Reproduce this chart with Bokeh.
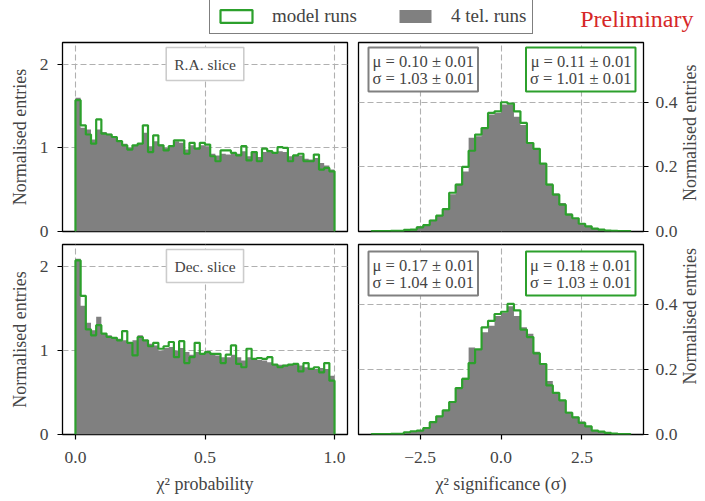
import math
import numpy as np
from bokeh.plotting import figure
from bokeh.layouts import column, row
from bokeh.models import FixedTicker, Label, Range1d, Legend, LegendItem
from bokeh.embed import file_html
from bokeh.resources import INLINE

FONT = "Liberation Serif"
GREEN = "#2ca02c"
GREY = "#808080"
RED = "#d62728"

# ---------------- data ----------------
prob_range = (0.0, 1.0)
prob_bins = 50
sig_range = (-4.0, 4.0)
sig_bins = 40

ra_prob_model = [1.57, 1.27, 1.16, 1.05, 1.34, 1.17, 1.16, 1.13, 1.08, 1.03,
                 0.98, 1.03, 1.05, 1.27, 0.95, 1.15, 1.03, 0.97, 1.02, 1.09,
                 1.09, 0.93, 1.06, 0.99, 1.06, 1.04, 0.90, 0.84, 0.97, 0.97,
                 0.94, 0.91, 1.02, 0.85, 0.95, 0.84, 0.99, 0.96, 0.94, 1.01,
                 1.00, 0.84, 0.91, 0.93, 0.84, 0.84, 0.92, 0.74, 0.76, 0.72]
ra_prob_tel = [1.60, 1.24, 1.22, 1.10, 1.22, 1.19, 1.17, 1.13, 1.09, 1.05,
               1.00, 1.03, 1.05, 1.18, 1.02, 1.08, 1.04, 1.00, 1.02, 1.08,
               1.06, 0.98, 1.03, 1.00, 1.03, 1.02, 0.93, 0.91, 0.93, 0.92,
               0.93, 0.93, 0.96, 0.90, 0.94, 0.89, 0.95, 0.95, 0.94, 0.96,
               0.95, 0.90, 0.91, 0.91, 0.87, 0.86, 0.88, 0.82, 0.79, 0.74]
dec_prob_model = [2.07, 1.65, 1.25, 1.18, 1.30, 1.20, 1.16, 1.15, 1.12, 1.23,
                  1.09, 0.94, 1.16, 1.12, 1.05, 1.09, 1.02, 1.05, 1.10, 0.92,
                  1.11, 0.85, 0.92, 1.09, 0.96, 0.98, 0.96, 0.96, 0.85, 0.95,
                  1.06, 0.84, 0.80, 1.02, 0.90, 0.91, 0.90, 0.92, 0.83, 0.80,
                  0.82, 0.83, 0.84, 0.75, 0.85, 0.78, 0.80, 0.74, 0.85, 0.64]
dec_prob_tel = [2.09, 1.53, 1.33, 1.24, 1.40, 1.20, 1.18, 1.15, 1.14, 1.12,
                1.09, 1.12, 1.18, 1.12, 1.08, 1.06, 1.00, 1.03, 1.04, 1.00,
                1.03, 0.98, 0.95, 0.98, 0.97, 0.97, 0.96, 0.94, 0.92, 0.92,
                0.95, 0.92, 0.88, 0.92, 0.90, 0.89, 0.88, 0.86, 0.84, 0.83,
                0.83, 0.83, 0.83, 0.82, 0.80, 0.78, 0.78, 0.79, 0.78, 0.70]

ra_sig_model = [0.001, 0.001, 0.001, 0.002, 0.002, 0.005, 0.006, 0.013, 0.020, 0.034,
                0.049, 0.069, 0.120, 0.145, 0.200, 0.250, 0.300, 0.320, 0.367, 0.372,
                0.400, 0.396, 0.372, 0.336, 0.274, 0.256, 0.210, 0.145, 0.114, 0.083,
                0.052, 0.041, 0.024, 0.016, 0.009, 0.006, 0.003, 0.002, 0.001, 0.001]
ra_sig_tel = [0.001, 0.001, 0.001, 0.002, 0.003, 0.005, 0.007, 0.016, 0.022, 0.036,
              0.050, 0.072, 0.115, 0.148, 0.186, 0.290, 0.295, 0.318, 0.362, 0.367,
              0.393, 0.393, 0.355, 0.330, 0.272, 0.258, 0.210, 0.148, 0.118, 0.088,
              0.056, 0.041, 0.026, 0.017, 0.010, 0.006, 0.003, 0.002, 0.001, 0.001]
dec_sig_model = [0.001, 0.001, 0.001, 0.002, 0.002, 0.007, 0.010, 0.012, 0.020, 0.038,
                 0.056, 0.074, 0.100, 0.143, 0.171, 0.220, 0.262, 0.330, 0.350, 0.371,
                 0.378, 0.402, 0.382, 0.323, 0.300, 0.250, 0.217, 0.151, 0.128, 0.105,
                 0.067, 0.053, 0.036, 0.025, 0.012, 0.009, 0.005, 0.003, 0.001, 0.001]
dec_sig_tel = [0.001, 0.001, 0.001, 0.002, 0.003, 0.006, 0.009, 0.014, 0.019, 0.036,
               0.054, 0.072, 0.100, 0.143, 0.175, 0.268, 0.260, 0.315, 0.335, 0.365,
               0.375, 0.395, 0.365, 0.330, 0.310, 0.255, 0.220, 0.165, 0.130, 0.105,
               0.070, 0.055, 0.040, 0.025, 0.014, 0.009, 0.005, 0.003, 0.001, 0.001]

ra_tel_fit = ["μ = 0.10 ± 0.01", "σ = 1.03 ± 0.01"]
ra_model_fit = ["μ = 0.11 ± 0.01", "σ = 1.01 ± 0.01"]
dec_tel_fit = ["μ = 0.17 ± 0.01", "σ = 1.04 ± 0.01"]
dec_model_fit = ["μ = 0.18 ± 0.01", "σ = 1.03 ± 0.01"]

slice_labels = ["R.A. slice", "Dec. slice"]
series_labels = ["model runs", "4 tel. runs"]

prob_xticks = [0.0, 0.5, 1.0]
prob_xtick_labels = ["0.0", "0.5", "1.0"]
prob_yticks = [0, 1, 2]
prob_ytick_labels = ["0", "1", "2"]
sig_xticks = [-2.5, 0.0, 2.5]
sig_xtick_labels = ["\u22122.5", "0.0", "2.5"]
sig_yticks = [0.0, 0.2, 0.4]
sig_ytick_labels = ["0.0", "0.2", "0.4"]

prob_ylim = (0.0, 2.26)
sig_ylim = (0.0, 0.585)

TICK_FS = "17.5px"
LABEL_FS = "18px"
Y_LABEL = "Normalised entries"

# panel geometry (pixels)
FRAME_W = 285
ROW_TOP = dict(mb_t=2, fh=189, mb_b=11)
ROW_BOT = dict(mb_t=2, fh=190, mb_b=65)
LEFT_BORDERS = (62, 5)
RIGHT_BORDERS = (6, 36)
SIDE_W = 705 - sum(LEFT_BORDERS) - sum(RIGHT_BORDERS) - 2 * FRAME_W


def step_path(edges, vals):
    xs = np.repeat(edges, 2)
    ys = np.concatenate([[0.0], np.repeat(np.asarray(vals, float), 2), [0.0]])
    return xs, ys


def style_axes(p, xticks, xlabels, yticks, ylabels, show_x, xlabel, ylabel):
    p.outline_line_color = "black"
    p.outline_line_width = 1.3
    p.background_fill_color = "white"
    p.border_fill_color = "white"
    for ax in p.yaxis:
        ax.ticker = FixedTicker(ticks=yticks)
        ax.major_label_overrides = {t: l for t, l in zip(yticks, ylabels)}
        ax.axis_line_color = None
        ax.major_tick_out = 5
        ax.major_tick_in = 0
        ax.major_tick_line_width = 1.2
        ax.minor_tick_line_color = None
        ax.major_label_text_font = FONT
        ax.major_label_text_font_size = TICK_FS
        ax.major_label_standoff = 9
        if ylabel:
            ax.axis_label = ylabel
        ax.axis_label_text_font = FONT
        ax.axis_label_text_font_size = LABEL_FS
        ax.axis_label_text_font_style = "normal"
        ax.axis_label_standoff = 7
    for ax in p.xaxis:
        ax.ticker = FixedTicker(ticks=xticks)
        ax.major_label_overrides = {t: l for t, l in zip(xticks, xlabels)}
        ax.axis_line_color = None
        ax.major_tick_out = 5
        ax.major_tick_in = 0
        ax.major_tick_line_width = 1.2
        ax.minor_tick_line_color = None
        ax.major_label_text_font = FONT
        ax.major_label_text_font_size = TICK_FS
        ax.major_label_standoff = 12
        ax.axis_label_text_font = FONT
        ax.axis_label_text_font_size = LABEL_FS
        ax.axis_label_text_font_style = "normal"
        ax.axis_label_standoff = 8
        if show_x:
            ax.axis_label = xlabel
        else:
            ax.visible = False
    p.xgrid.ticker = FixedTicker(ticks=xticks)
    p.ygrid.ticker = FixedTicker(ticks=yticks)
    for g in (p.xgrid, p.ygrid):
        g.grid_line_color = "#b0b0b0"
        g.grid_line_dash = "6 3"
        g.grid_line_width = 1.1


def hist_panel(kind, top, model_vals, tel_vals, extra):
    geo = ROW_TOP if top else ROW_BOT
    if kind == "prob":
        lo, hi = prob_range
        nb = prob_bins
        yr = Range1d(*prob_ylim)
        side = "left"
        mb_l, mb_r = LEFT_BORDERS
    else:
        lo, hi = sig_range
        nb = sig_bins
        yr = Range1d(*sig_ylim)
        side = "right"
        mb_l, mb_r = RIGHT_BORDERS
    pad = 0.05 * (hi - lo)
    xr = Range1d(lo - pad, hi + pad)
    p = figure(frame_width=FRAME_W, frame_height=geo["fh"], x_range=xr, y_range=yr,
               y_axis_location=side, output_backend="svg", toolbar_location=None,
               min_border_left=mb_l, min_border_right=mb_r,
               min_border_top=geo["mb_t"], min_border_bottom=geo["mb_b"])
    edges = np.linspace(lo, hi, nb + 1)
    tel = np.asarray(tel_vals, float)
    p.varea_step(x=edges, y1=np.zeros(nb + 1), y2=np.append(tel, tel[-1]),
                 step_mode="after", fill_color=GREY)
    xs, ys = step_path(edges, model_vals)
    p.line(xs, ys, line_color=GREEN, line_width=2.2)
    if kind == "prob":
        style_axes(p, prob_xticks, prob_xtick_labels, prob_yticks, prob_ytick_labels,
                   not top, "\u03c7\u00b2 probability", Y_LABEL)
        p.add_layout(Label(x=(xr.start + xr.end) / 2, y=yr.end, y_offset=-5,
                           text=extra, text_align="center", text_baseline="top",
                           text_font=FONT, text_font_size="15.5px",
                           border_line_color="#cccccc", border_line_width=1.6,
                           background_fill_color="white", padding=8))
    else:
        style_axes(p, sig_xticks, sig_xtick_labels, sig_yticks, sig_ytick_labels,
                   not top, "\u03c7\u00b2 significance (\u03c3)", None)
        for ax in p.yaxis:
            ax.major_label_standoff = 7
        tel_fit, model_fit = extra
        yo = -5 if top else -7
        p.add_layout(Label(x=xr.start, y=yr.end, x_offset=10, y_offset=yo,
                           text="\n".join(tel_fit), text_align="left", text_baseline="top",
                           text_font=FONT, text_font_size="16.5px", text_line_height=0.9,
                           border_line_color=GREY, border_line_width=2,
                           background_fill_color="white", padding=4))
        p.add_layout(Label(x=xr.end, y=yr.end, x_offset=-8, y_offset=yo,
                           text="\n".join(model_fit), text_align="right", text_baseline="top",
                           text_font=FONT, text_font_size="16.5px", text_line_height=0.9,
                           border_line_color=GREEN, border_line_width=2,
                           background_fill_color="white", padding=4))
    return p


def side_title(top):
    """Narrow strip holding the right-hand y-axis title (reads bottom-to-top)."""
    geo = ROW_TOP if top else ROW_BOT
    h = geo["mb_t"] + geo["fh"] + geo["mb_b"]
    s = figure(width=SIDE_W, height=h, x_range=Range1d(0, SIDE_W), y_range=Range1d(0, h),
               output_backend="svg", toolbar_location=None, min_border=0)
    s.axis.visible = False
    s.grid.visible = False
    s.outline_line_color = None
    s.background_fill_color = "white"
    s.border_fill_color = "white"
    yc = h - geo["mb_t"] - geo["fh"] / 2
    s.add_layout(Label(x=9, y=yc, text=Y_LABEL, angle=math.pi / 2,
                       text_align="center", text_baseline="middle",
                       text_font=FONT, text_font_size=LABEL_FS))
    return s


tl = hist_panel("prob", True, ra_prob_model, ra_prob_tel, slice_labels[0])
tr = hist_panel("sig", True, ra_sig_model, ra_sig_tel, (ra_tel_fit, ra_model_fit))
bl = hist_panel("prob", False, dec_prob_model, dec_prob_tel, slice_labels[1])
br = hist_panel("sig", False, dec_sig_model, dec_sig_tel, (dec_tel_fit, dec_model_fit))

# ---------------- header (legend + Preliminary) ----------------
HW, HH = 705, 40
hdr = figure(width=HW, height=HH, x_range=Range1d(0, HW), y_range=Range1d(0, HH),
             output_backend="svg", toolbar_location=None, min_border=0)
hdr.axis.visible = False
hdr.grid.visible = False
hdr.outline_line_color = None
hdr.background_fill_color = "white"
# legend proxies drawn outside the visible range
r_model = hdr.quad(left=[-50], right=[-40], top=[-40], bottom=[-50], fill_color=None,
                   line_color=GREEN, line_width=2.2)
r_tel = hdr.quad(left=[-50], right=[-40], top=[-40], bottom=[-50], fill_color=GREY,
                 line_color=None)
leg = Legend(items=[LegendItem(label=series_labels[0], renderers=[r_model]),
                    LegendItem(label=series_labels[1], renderers=[r_tel])],
             orientation="horizontal", location=(209, 6),
             label_text_font=FONT, label_text_font_size="19px", label_height=20,
             glyph_width=40, glyph_height=16, label_standoff=16, spacing=38,
             padding=6, margin=0, border_line_color="black", border_line_width=1.3,
             background_fill_alpha=1.0)
hdr.add_layout(leg)
hdr.add_layout(Label(x=693, y=22, text="Preliminary", text_align="right",
                     text_baseline="middle", text_font=FONT, text_font_size="24px",
                     text_color=RED))

layout = column(hdr, row(tl, tr, side_title(True)), row(bl, br, side_title(False)))

with open("out.html", "w") as f:
    f.write(file_html(layout, INLINE))
